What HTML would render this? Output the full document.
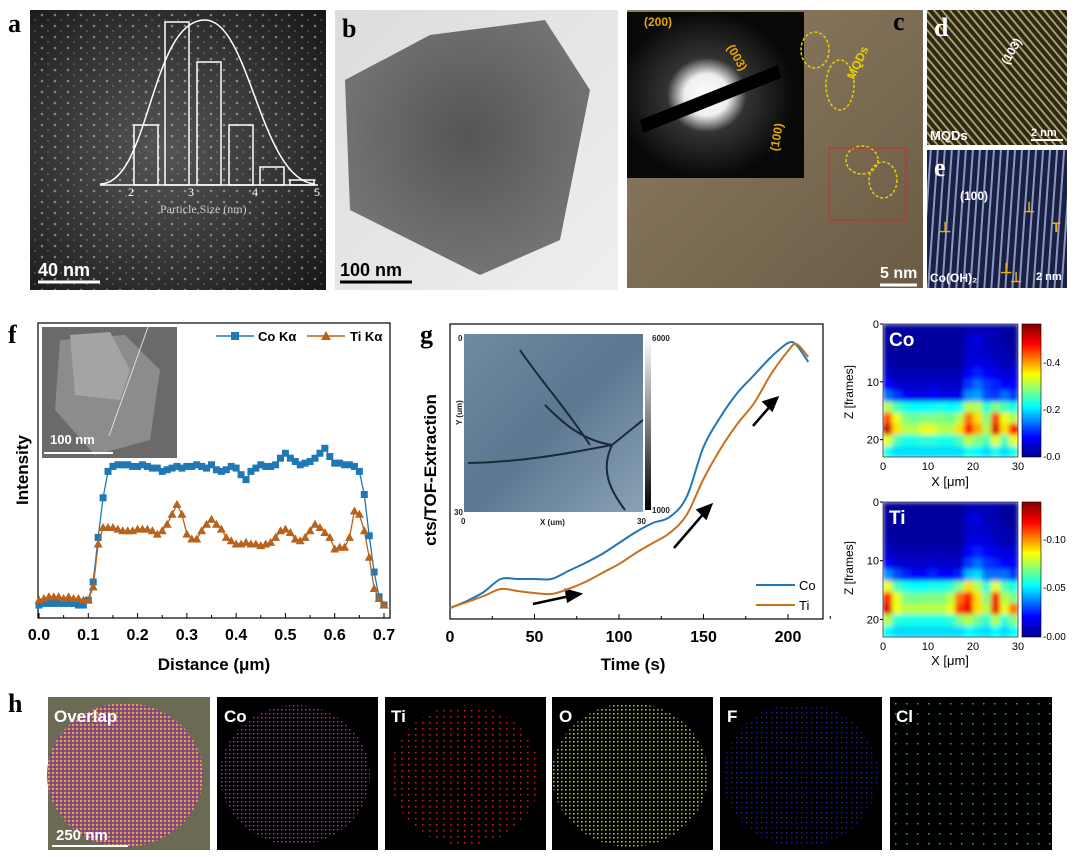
<!DOCTYPE html>
<html><head><meta charset="utf-8"><style>
body{margin:0;background:#fff;width:1080px;height:857px;overflow:hidden;font-family:"Liberation Sans",Arial,sans-serif}
svg{display:block}
</style></head><body>
<svg width="1080" height="857" viewBox="0 0 1080 857" xmlns="http://www.w3.org/2000/svg">
<defs>
<radialGradient id="ga" cx="0.45" cy="0.5" r="0.7"><stop offset="0" stop-color="#555"/><stop offset="0.6" stop-color="#333"/><stop offset="1" stop-color="#1a1a1a"/></radialGradient>
<linearGradient id="gb" x1="0" y1="0" x2="1" y2="1"><stop offset="0" stop-color="#dcdcdc"/><stop offset="1" stop-color="#efefef"/></linearGradient>
<radialGradient id="gbhex" cx="0.5" cy="0.45" r="0.6"><stop offset="0" stop-color="#555"/><stop offset="1" stop-color="#777"/></radialGradient>
<linearGradient id="gc" x1="0" y1="0" x2="1" y2="1"><stop offset="0" stop-color="#8f7e63"/><stop offset="1" stop-color="#6b5b45"/></linearGradient>
<radialGradient id="gsaed" cx="0.45" cy="0.5" r="0.5"><stop offset="0" stop-color="#fff"/><stop offset="0.25" stop-color="#eee"/><stop offset="0.45" stop-color="#333"/><stop offset="1" stop-color="#080808"/></radialGradient>
<pattern id="pd" width="6" height="6" patternUnits="userSpaceOnUse" patternTransform="rotate(-40)"><rect width="6" height="6" fill="#2a2818"/><rect width="2" height="6" fill="#a89a60"/></pattern>
<pattern id="pe" width="7" height="7" patternUnits="userSpaceOnUse" patternTransform="rotate(4)"><rect width="7" height="7" fill="#1a2040"/><rect width="2" height="7" fill="#8a96c8"/></pattern>
<linearGradient id="gg" x1="0" y1="0" x2="1" y2="1"><stop offset="0" stop-color="#6f8aa0"/><stop offset="0.5" stop-color="#5b7891"/><stop offset="1" stop-color="#8aa2b5"/></linearGradient>
<linearGradient id="ggbar" x1="0" y1="0" x2="0" y2="1"><stop offset="0" stop-color="#fff"/><stop offset="1" stop-color="#000"/></linearGradient>
<linearGradient id="jet" x1="0" y1="1" x2="0" y2="0"><stop offset="0" stop-color="#00008f"/><stop offset="0.15" stop-color="#0000ff"/><stop offset="0.38" stop-color="#00ffff"/><stop offset="0.62" stop-color="#ffff00"/><stop offset="0.85" stop-color="#ff0000"/><stop offset="1" stop-color="#800000"/></linearGradient>
<pattern id="dotsM" width="4" height="4" patternUnits="userSpaceOnUse"><rect width="4" height="4" fill="#000"/><rect x="1" y="1" width="1.4" height="1.4" fill="#c030c0"/></pattern>
<pattern id="dotsR" width="7" height="6" patternUnits="userSpaceOnUse"><rect width="7" height="6" fill="#000"/><rect x="2" y="2" width="1.5" height="1.5" fill="#d02020"/></pattern>
<pattern id="dotsY" width="4" height="4" patternUnits="userSpaceOnUse"><rect width="4" height="4" fill="#000"/><rect x="1" y="1" width="1.6" height="1.6" fill="#b8b820"/></pattern>
<pattern id="dotsB" width="5" height="5" patternUnits="userSpaceOnUse"><rect width="5" height="5" fill="#000"/><rect x="1" y="2" width="1.4" height="1.4" fill="#2020b0"/></pattern>
<pattern id="dotsC" width="11" height="10" patternUnits="userSpaceOnUse"><rect width="11" height="10" fill="#000"/><rect x="4" y="3" width="1.5" height="1.5" fill="#30a0c0"/></pattern>
<pattern id="dotsO" width="4" height="4" patternUnits="userSpaceOnUse"><rect width="4" height="4" fill="#8a5a60"/><rect x="0" y="0" width="2" height="2" fill="#e0a050"/><rect x="2" y="2" width="1.5" height="1.5" fill="#7030a0"/></pattern>
<pattern id="speck" width="13" height="11" patternUnits="userSpaceOnUse"><circle cx="3" cy="4" r="1.3" fill="#ddd" opacity="0.8"/><circle cx="9" cy="9" r="0.9" fill="#ccc" opacity="0.6"/></pattern>
<filter id="blur" x="0" y="0" width="1" height="1"><feGaussianBlur stdDeviation="2.5"/></filter>
<clipPath id="clipCo"><rect x="883" y="324" width="135" height="133"/></clipPath>
<clipPath id="clipTi"><rect x="883" y="502" width="135" height="135"/></clipPath>
</defs>

<!-- Panel a -->
<g>
<rect x="30" y="10" width="296" height="280" fill="url(#ga)"/>
<rect x="30" y="10" width="296" height="280" fill="url(#speck)" opacity="0.6"/>
<text x="8" y="32" font-family="Liberation Serif" font-weight="bold" font-size="26" fill="#000">a</text>
<g fill="none" stroke="#fff" stroke-width="1.5">
<rect x="134" y="125" width="24" height="60"/><rect x="165" y="22" width="24" height="163"/><rect x="197" y="62" width="24" height="123"/><rect x="229" y="125" width="24" height="60"/><rect x="260" y="167" width="24" height="18"/><rect x="290" y="180" width="24" height="5"/>
<path d="M100 184 C150 184 150 20 205 20 C250 20 260 180 315 184"/>
<line x1="100" y1="185" x2="318" y2="185"/>
</g>
<g fill="#fff" font-size="12" font-family="Liberation Serif"><text x="128" y="196">2</text><text x="188" y="196">3</text><text x="252" y="196">4</text><text x="314" y="196">5</text><text x="160" y="213" fill="#ccc">Particle Size (nm)</text></g>
<line x1="38" y1="282" x2="100" y2="282" stroke="#fff" stroke-width="3"/>
<text x="38" y="276" fill="#fff" font-weight="bold" font-size="18">40 nm</text>
</g>

<!-- Panel b -->
<g>
<rect x="335" y="10" width="283" height="280" fill="url(#gb)"/>
<polygon points="345,80 430,35 545,20 590,90 560,240 480,275 350,210" fill="url(#gbhex)"/>
<text x="342" y="37" font-family="Liberation Serif" font-weight="bold" font-size="26">b</text>
<line x1="340" y1="282" x2="412" y2="282" stroke="#000" stroke-width="3"/>
<text x="340" y="276" font-weight="bold" font-size="18">100 nm</text>
</g>

<!-- Panel c -->
<g>
<rect x="627" y="10" width="296" height="278" fill="url(#gc)"/>
<rect x="627" y="12" width="177" height="166" fill="url(#gsaed)"/>
<polygon points="640,120 778,65 781,78 643,133" fill="#000"/>
<g fill="#e8a800" font-size="12" font-weight="bold"><text x="644" y="26">(200)</text><text x="732" y="62" transform="rotate(60 742 50)">(003)</text><text x="760" y="150" transform="rotate(-80 770 140)">(100)</text></g>
<text x="838" y="75" fill="#e8d000" font-size="12" font-weight="bold" transform="rotate(-65 850 65)">MQDs</text>
<g fill="none" stroke="#e8d000" stroke-dasharray="3 2" stroke-width="1.5"><ellipse cx="815" cy="50" rx="14" ry="18"/><ellipse cx="840" cy="85" rx="14" ry="25"/><ellipse cx="862" cy="160" rx="16" ry="14"/><ellipse cx="883" cy="180" rx="14" ry="18"/></g>
<rect x="829" y="148" width="77" height="72" fill="none" stroke="#c03030" stroke-width="1"/>
<text x="893" y="30" font-family="Liberation Serif" font-weight="bold" font-size="26">c</text>
<line x1="880" y1="285" x2="917" y2="285" stroke="#fff" stroke-width="3"/>
<text x="880" y="278" fill="#fff" font-weight="bold" font-size="16">5 nm</text>
</g>

<!-- Panel d / e -->
<g>
<rect x="927" y="10" width="140" height="135" fill="url(#pd)"/>
<text x="934" y="36" font-family="Liberation Serif" font-weight="bold" font-size="26" fill="#fff">d</text>
<text x="999" y="60" fill="#fff" font-size="12" font-weight="bold" transform="rotate(-60 1008 55)">(103)</text>
<text x="930" y="140" fill="#fff" font-size="13" font-weight="bold">MQDs</text>
<text x="1031" y="136" fill="#fff" font-size="11" font-weight="bold">2 nm</text>
<line x1="1031" y1="140" x2="1063" y2="140" stroke="#fff" stroke-width="2"/>
</g>
<g>
<rect x="927" y="150" width="140" height="138" fill="url(#pe)"/>
<text x="934" y="176" font-family="Liberation Serif" font-weight="bold" font-size="26" fill="#fff">e</text>
<text x="960" y="200" fill="#fff" font-size="12" font-weight="bold">(100)</text>
<g fill="#f0b000" font-size="14" font-weight="bold"><text x="939" y="232">⊥</text><text x="1023" y="212">⊥</text><text x="1052" y="232">T</text><text x="1000" y="273">⊥</text><text x="1010" y="282">⊥</text></g>
<text x="930" y="282" fill="#fff" font-size="12" font-weight="bold">Co(OH)₂</text>
<text x="1036" y="280" fill="#fff" font-size="11" font-weight="bold">2 nm</text>
</g>

<!-- Panel f chart -->
<g id="chartF">
<text x="8" y="343" font-family="Liberation Serif" font-weight="bold" font-size="26">f</text>
<rect x="38" y="323" width="352" height="295" fill="none" stroke="#000" stroke-width="1.2"/>
<rect x="42" y="327" width="135" height="131" fill="#6a6a6a"/>
<polygon points="60,340 125,335 160,370 150,440 95,455 55,410" fill="#8c8c8c"/>
<polygon points="70,335 110,332 130,370 120,400 75,395" fill="#a4a4a4"/>
<line x1="109" y1="436" x2="148" y2="327" stroke="#ddd" stroke-width="1"/>
<text x="50" y="444" fill="#fff" font-weight="bold" font-size="13">100 nm</text>
<line x1="44" y1="453" x2="113" y2="453" stroke="#fff" stroke-width="2"/>
<text x="28" y="470" font-weight="bold" font-size="17" transform="rotate(-90 28 470)" text-anchor="middle">Intensity</text>
<text x="214" y="670" font-weight="bold" font-size="17" text-anchor="middle">Distance (μm)</text>
</g>

<!-- Panel g chart -->
<g id="chartG">
<text x="420" y="343" font-family="Liberation Serif" font-weight="bold" font-size="26">g</text>
<rect x="450" y="324" width="373" height="295" fill="none" stroke="#000" stroke-width="1.2"/>
<rect x="464" y="334" width="179" height="178" fill="url(#gg)"/>
<path d="M468 463 C520 462 560 455 612 445 L643 420 M545 405 C560 420 580 440 612 445 M520 350 C540 380 560 400 590 445 M612 445 C600 470 610 490 625 510" stroke="#1a2a38" stroke-width="2" fill="none"/>
<rect x="645" y="336" width="6" height="174" fill="url(#ggbar)"/>
<g font-size="8" font-weight="bold" fill="#222"><text x="652" y="341">6000</text><text x="652" y="513">1000</text><text x="458" y="341">0</text><text x="454" y="515">30</text><text x="461" y="524">0</text><text x="637" y="524">30</text><text x="540" y="525">X (um)</text><text x="462" y="425" transform="rotate(-90 462 425)">Y (um)</text></g>
<text x="436" y="470" font-weight="bold" font-size="17" transform="rotate(-90 436 470)" text-anchor="middle">cts/TOF-Extraction</text>
<text x="633" y="670" font-weight="bold" font-size="17" text-anchor="middle">Time (s)</text>
<g>
<line x1="756" y1="585" x2="795" y2="585" stroke="#1f78b4" stroke-width="2"/><text x="799" y="590" font-size="13">Co</text>
<line x1="756" y1="605" x2="795" y2="605" stroke="#c87020" stroke-width="2"/><text x="799" y="610" font-size="13">Ti</text>
</g>
<g stroke="#000" stroke-width="2.5" fill="#000">
<line x1="533" y1="604" x2="570" y2="596"/><polygon points="580,594 566,590 568,601"/>
<line x1="674" y1="548" x2="705" y2="512"/><polygon points="711,505 698,510 706,518"/>
<line x1="753" y1="426" x2="772" y2="404"/><polygon points="777,398 764,402 772,410"/>
</g>
</g>

<!-- Heatmaps -->
<g id="heat">
<text x="853" y="392" font-size="12" transform="rotate(-90 853 392)" text-anchor="middle">Z [frames]</text>
<text x="853" y="568" font-size="12" transform="rotate(-90 853 568)" text-anchor="middle">Z [frames]</text>
<text x="950" y="486" font-size="13" text-anchor="middle">X [μm]</text>
<text x="950" y="665" font-size="13" text-anchor="middle">X [μm]</text>
<rect x="1022" y="324" width="19" height="133" fill="url(#jet)" stroke="#000" stroke-width="0.6"/>
<rect x="1022" y="502" width="19" height="135" fill="url(#jet)" stroke="#000" stroke-width="0.6"/>
<g font-size="10"><text x="1043" y="366">-0.4</text><text x="1043" y="413">-0.2</text><text x="1043" y="460">-0.0</text>
<text x="1043" y="543">-0.10</text><text x="1043" y="591">-0.05</text><text x="1043" y="640">-0.00</text></g>
</g>

<!-- Panel h -->
<g>
<text x="8" y="712" font-family="Liberation Serif" font-weight="bold" font-size="26">h</text>
<rect x="48" y="697" width="162" height="153" fill="#6a6a55"/>
<ellipse cx="125" cy="775" rx="78" ry="72" fill="url(#dotsO)"/>
<rect x="217" y="697" width="161" height="153" fill="#000"/><ellipse cx="295" cy="775" rx="75" ry="70" fill="url(#dotsM)"/>
<rect x="385" y="697" width="161" height="153" fill="#000"/><ellipse cx="465" cy="775" rx="75" ry="70" fill="url(#dotsR)"/>
<rect x="552" y="697" width="161" height="153" fill="#000"/><ellipse cx="630" cy="775" rx="78" ry="72" fill="url(#dotsY)"/>
<rect x="720" y="697" width="162" height="153" fill="#000"/><ellipse cx="800" cy="775" rx="78" ry="72" fill="url(#dotsB)"/>
<rect x="890" y="697" width="162" height="153" fill="url(#dotsC)"/>
<g fill="#fff" font-weight="bold" font-size="17"><text x="54" y="722">Overlap</text><text x="224" y="722">Co</text><text x="391" y="722">Ti</text><text x="559" y="722">O</text><text x="727" y="722">F</text><text x="896" y="722">Cl</text></g>
<text x="56" y="840" fill="#fff" font-size="15" font-weight="bold">250 nm</text>
<line x1="52" y1="846" x2="128" y2="846" stroke="#fff" stroke-width="2"/>
</g>
</svg>

<script>
// ---- Panel f data ----
const fDist = [0,0.01,0.02,0.03,0.04,0.05,0.06,0.07,0.08,0.09,0.10,0.11,0.12,0.13,0.14,0.15,0.16,0.17,0.18,0.19,0.20,0.21,0.22,0.23,0.24,0.25,0.26,0.27,0.28,0.29,0.30,0.31,0.32,0.33,0.34,0.35,0.36,0.37,0.38,0.39,0.40,0.41,0.42,0.43,0.44,0.45,0.46,0.47,0.48,0.49,0.50,0.51,0.52,0.53,0.54,0.55,0.56,0.57,0.58,0.59,0.60,0.61,0.62,0.63,0.64,0.65,0.66,0.67,0.68,0.69,0.70];
const fCo = [3,4,4,4,4,4,4,4,3,3,6,17,44,68,84,87,88,88,88,87,87,88,87,86,86,84,85,86,87,86,87,87,88,87,86,88,85,84,85,87,86,82,79,84,86,88,87,87,88,92,95,92,90,88,89,90,92,95,98,93,89,89,88,88,87,84,70,45,23,8,3];
const fTi = [6,7,8,8,8,7,8,7,7,6,6,14,40,50,50,50,49,48,48,48,49,49,49,48,46,48,52,58,64,58,46,43,43,48,52,55,52,49,44,42,40,40,41,40,40,39,40,41,44,48,49,47,43,42,44,48,52,50,47,44,37,38,38,44,60,58,48,32,13,7,3];
const fTicks = [0,0.1,0.2,0.3,0.4,0.5,0.6,0.7];
const fLabels = ["0.0","0.1","0.2","0.3","0.4","0.5","0.6","0.7"];
// ---- Panel g data ----
const gTime = [0,10,20,30,40,50,60,70,80,90,100,110,120,130,140,150,160,170,180,190,200,205,212];
const gCo = [11,18,27,40,40,40,40,48,56,65,76,87,96,102,122,172,202,226,244,262,276,274,257];
const gTi = [11,17,23,30,28,26,25,30,37,46,55,66,76,86,104,140,170,195,216,245,268,275,262];
const gTicks = [0,50,100,150,200];
// ---- Heatmap data (rows = Z bins of 2 frames, cols = X bins of 2 µm), relative 0..1 ----
const heatCo = [
[.02,.02,.02,.02,.02,.02,.02,.02,.02,.05,.05,.05,.05,.02,.02],
[.02,.02,.02,.02,.02,.02,.02,.02,.02,.08,.12,.05,.05,.02,.02],
[.02,.02,.02,.02,.02,.02,.02,.02,.02,.08,.08,.08,.05,.05,.02],
[.05,.02,.02,.02,.02,.02,.02,.02,.02,.1,.12,.1,.08,.05,.05],
[.08,.05,.05,.05,.05,.05,.05,.05,.05,.15,.18,.15,.12,.1,.1],
[.15,.1,.08,.08,.08,.1,.08,.08,.08,.2,.25,.2,.18,.15,.15],
[.25,.2,.15,.12,.12,.15,.12,.12,.12,.28,.3,.22,.2,.25,.2],
[.55,.45,.4,.38,.38,.38,.4,.38,.4,.55,.55,.42,.5,.45,.4],
[.78,.6,.5,.48,.5,.5,.5,.48,.55,.75,.65,.5,.8,.6,.55],
[.92,.65,.55,.55,.6,.6,.55,.55,.65,.85,.7,.55,.9,.65,.85],
[.6,.45,.4,.4,.42,.42,.4,.4,.45,.55,.5,.45,.6,.45,.6],
[.4,.35,.35,.35,.35,.35,.35,.35,.35,.4,.38,.35,.4,.35,.4]];
const heatTi = [
[.02,.02,.02,.02,.02,.02,.02,.02,.02,.05,.05,.05,.05,.02,.02],
[.02,.02,.02,.02,.02,.02,.02,.02,.02,.08,.12,.05,.05,.02,.02],
[.02,.02,.02,.02,.02,.02,.02,.02,.02,.08,.08,.08,.05,.05,.02],
[.05,.02,.02,.02,.02,.02,.02,.02,.02,.1,.12,.1,.08,.05,.05],
[.08,.05,.05,.05,.05,.05,.05,.05,.05,.15,.18,.15,.12,.1,.1],
[.15,.1,.08,.08,.08,.1,.08,.08,.08,.2,.25,.2,.18,.15,.15],
[.28,.22,.18,.15,.15,.18,.15,.15,.18,.32,.35,.25,.25,.25,.2],
[.6,.45,.4,.38,.38,.4,.4,.42,.5,.65,.55,.42,.6,.45,.4],
[.82,.6,.5,.48,.5,.5,.5,.55,.75,.85,.65,.5,.85,.55,.5],
[.9,.6,.55,.55,.55,.55,.55,.6,.8,.88,.65,.55,.88,.6,.75],
[.55,.42,.4,.4,.4,.4,.4,.42,.5,.55,.48,.42,.55,.42,.5],
[.38,.35,.35,.35,.35,.35,.35,.35,.35,.38,.36,.35,.38,.35,.38]];
const heatXTicks = [0,10,20,30];
const heatZTicks = [0,10,20];

const NS = "http://www.w3.org/2000/svg";
function mk(tag, attrs, parent){const e=document.createElementNS(NS,tag);for(const k in attrs)e.setAttribute(k,attrs[k]);parent.appendChild(e);return e;}
function smooth(pts){let d='M'+pts[0][0]+' '+pts[0][1];for(let i=0;i<pts.length-1;i++){const p0=pts[i-1]||pts[i],p1=pts[i],p2=pts[i+1],p3=pts[i+2]||p2;d+=` C${p1[0]+(p2[0]-p0[0])/6} ${p1[1]+(p2[1]-p0[1])/6} ${p2[0]-(p3[0]-p1[0])/6} ${p2[1]-(p3[1]-p1[1])/6} ${p2[0]} ${p2[1]}`;}return d;}

// Panel f
(function(){
  const g=document.getElementById('chartF');
  const x=v=>39+v/0.7*345, y=v=>610-v*1.65;
  fTicks.forEach((t,i)=>{
    mk('line',{x1:x(t),x2:x(t),y1:618,y2:613,stroke:'#000'},g);
    if(i<fTicks.length-1) mk('line',{x1:x(t+0.05),x2:x(t+0.05),y1:618,y2:615,stroke:'#000'},g);
    const tx=mk('text',{x:x(t),y:640,'font-size':16,'font-weight':'bold','text-anchor':'middle'},g);tx.textContent=fLabels[i];
    
    
  });
  const ser=[[fCo,'#1f78b4','sq'],[fTi,'#b8621b','tri']];
  ser.forEach(([vals,col,m])=>{
    const p=mk('polyline',{points:vals.map((v,i)=>x(fDist[i])+','+y(v)).join(' '),fill:'none',stroke:col,'stroke-width':1.3},g);
    
    
    vals.forEach((v,i)=>{
      const cx=x(fDist[i]),cy=y(v);let e;
      if(m==='sq') e=mk('rect',{x:cx-3.5,y:cy-3.5,width:7,height:7,fill:col},g);
      else e=mk('polygon',{points:`${cx},${cy-4.5} ${cx-4.5},${cy+3.5} ${cx+4.5},${cy+3.5}`,fill:col},g);
      
      
    });
  });
  mk('line',{x1:216,x2:254,y1:336,y2:336,stroke:'#1f78b4','stroke-width':1.5},g);
  mk('rect',{x:231,y:332,width:8,height:8,fill:'#1f78b4'},g);
  let t=mk('text',{x:258,y:341,'font-size':13,'font-weight':'bold'},g);t.textContent='Co Kα';
  
  
  mk('line',{x1:307,x2:345,y1:336,y2:336,stroke:'#b8621b','stroke-width':1.5},g);
  mk('polygon',{points:'326,331 321,340 331,340',fill:'#b8621b'},g);
  t=mk('text',{x:350,y:341,'font-size':13,'font-weight':'bold'},g);t.textContent='Ti Kα';
  
  
})();

// Panel g
(function(){
  const g=document.getElementById('chartG');
  const x=v=>450+v*1.69, y=v=>619-v;
  gTicks.forEach(t=>{
    mk('line',{x1:x(t),x2:x(t),y1:619,y2:614,stroke:'#000'},g);
    mk('line',{x1:x(t+25),x2:x(t+25),y1:619,y2:616,stroke:'#000'},g);
    const tx=mk('text',{x:x(t),y:642,'font-size':16,'font-weight':'bold','text-anchor':'middle'},g);tx.textContent=t;
    
    
  });
  [[gCo,'#1f78b4','co-line'],[gTi,'#c87020','ti-line']].forEach(([vals,col,n])=>{
    const p=mk('path',{d:smooth(vals.map((v,i)=>[x(gTime[i]),y(v)])),fill:'none',stroke:col,'stroke-width':2},g);
    
    
  });
})();

// Heatmaps
(function(){
  const g=document.getElementById('heat');
  const stops=[[0,[0,0,143]],[0.15,[0,0,255]],[0.38,[0,255,255]],[0.62,[255,255,0]],[0.85,[255,0,0]],[1,[128,0,0]]];
  function jet(v){for(let i=1;i<stops.length;i++){if(v<=stops[i][0]){const a=stops[i-1],b=stops[i],f=(v-a[0])/(b[0]-a[0]);return 'rgb('+a[1].map((c,k)=>Math.round(c+(b[1][k]-c)*f)).join(',')+')';}}return 'rgb(128,0,0)';}
  [[heatCo,324,133,'Co','clipCo'],[heatTi,502,135,'Ti','clipTi']].forEach(([data,top,h,lab,clip])=>{
    const x0=883,w=135,rows=data.length,cols=data[0].length;
    const cw=w/cols,ch=h/rows;
    const cg=mk('g',{'clip-path':'url(#'+clip+')'},g);
    const bg=mk('g',{filter:'url(#blur)'},cg);
    data.forEach((row,r)=>row.forEach((v,c)=>{
      const e=mk('rect',{x:x0+c*cw,y:top+r*ch,width:cw+0.5,height:ch+0.5,fill:jet(v)},bg);
      
      
    }));
    mk('rect',{x:x0,y:top,width:w,height:h,fill:'none',stroke:'#000','stroke-width':0.6},g);
    const zx=z=>top+z/23*h, xx=v=>x0+v/30*w;
    heatZTicks.forEach(z=>{const t=mk('text',{x:x0-4,y:zx(z)+4,'font-size':11,'text-anchor':'end'},g);t.textContent=z;mk('line',{x1:x0-3,x2:x0,y1:zx(z),y2:zx(z),stroke:'#000'},g);});
    heatXTicks.forEach(v=>{const t=mk('text',{x:xx(v),y:top+h+13,'font-size':11,'text-anchor':'middle'},g);t.textContent=v;});
    const t=mk('text',{x:x0+6,y:top+22,'font-size':19,'font-weight':'bold',fill:'#fff'},g);t.textContent=lab;
    
    
  });
})();
</script>
</body></html>
